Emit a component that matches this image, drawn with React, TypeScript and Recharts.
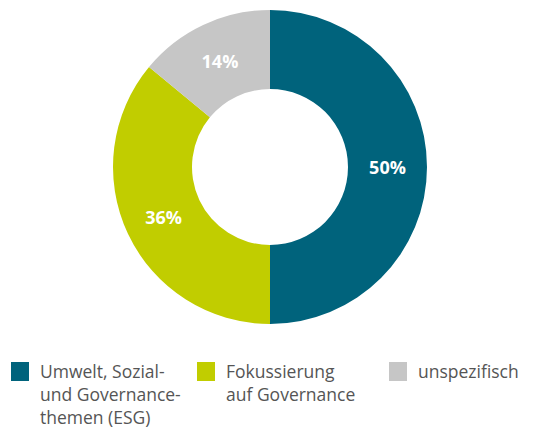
import { Cell, Pie, PieChart } from "recharts";

const categories = ["Umwelt, Sozial- und Governance-themen (ESG)", "Fokussierung auf Governance", "unspezifisch"];
const legendLines = [
  ["Umwelt, Sozial-", "und Governance-", "themen (ESG)"],
  ["Fokussierung", "auf Governance"],
  ["unspezifisch"],
];
const shares = [50, 36, 14];
const colors = ["#00637c", "#c1cd00", "#c6c6c6"];

const data = categories.map((name, i) => ({ name, value: shares[i] }));

const RADIAN = Math.PI / 180;

const renderLabel = (props: any) => {
  const { cx, cy, midAngle, innerRadius, outerRadius, value } = props;
  const r = (innerRadius + outerRadius) / 2;
  const x = cx + r * Math.cos(-midAngle * RADIAN);
  const y = cy + r * Math.sin(-midAngle * RADIAN);
  return (
    <text
      x={x}
      y={y}
      fill="#ffffff"
      textAnchor="middle"
      dominantBaseline="central"
      fontSize={18}
      fontWeight={700}
      fontFamily="'Open Sans', sans-serif"
    >
      {`${value}%`}
    </text>
  );
};

const legendX = [11, 197, 389];

export default function App() {
  return (
    <div style={{ position: "absolute", left: 0, top: 0, width: 543, height: 430, background: "#fff" }}>
      <PieChart width={543} height={340} margin={{ top: 0, right: 0, bottom: 0, left: 0 }}>
        <Pie
          data={data}
          dataKey="value"
          cx={270}
          cy={167}
          innerRadius={78}
          outerRadius={157}
          startAngle={90}
          endAngle={-270}
          stroke="none"
          label={renderLabel}
          labelLine={false}
          isAnimationActive={false}
        >
          {data.map((d, i) => (
            <Cell key={d.name} fill={colors[i]} />
          ))}
        </Pie>
      </PieChart>
      {legendLines.map((lines, i) => (
        <div
          key={i}
          style={{ position: "absolute", left: legendX[i], top: 362, display: "flex", alignItems: "flex-start" }}
        >
          <div style={{ width: 18, height: 19, background: colors[i], marginRight: 11 }} />
          <div
            style={{
              fontFamily: "'Open Sans', sans-serif",
              fontSize: 17.5,
              lineHeight: "23px",
              color: "#555555",
              marginTop: -2,
            }}
          >
            {lines.map((l) => (
              <div key={l}>{l}</div>
            ))}
          </div>
        </div>
      ))}
    </div>
  );
}
